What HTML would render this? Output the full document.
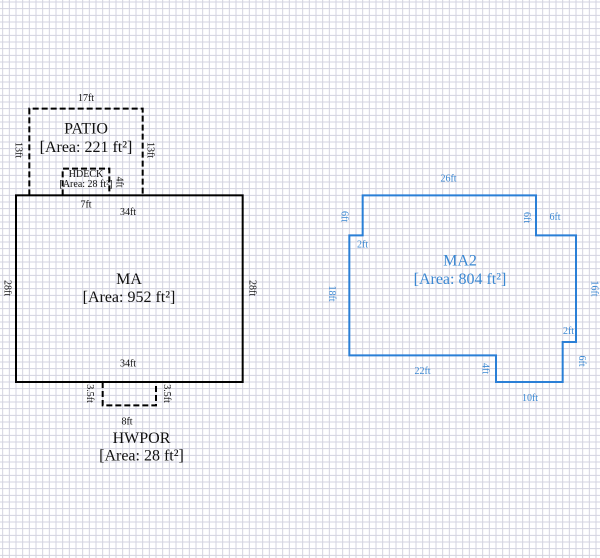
<!DOCTYPE html>
<html><head><meta charset="utf-8"><style>
html,body{margin:0;padding:0;background:#fff;}
svg{display:block;}
text{font-family:"Liberation Serif",serif;}
</style></head><body>
<svg width="600" height="558" viewBox="0 0 600 558" xmlns="http://www.w3.org/2000/svg">
<defs>
<pattern id="g" patternUnits="userSpaceOnUse" x="0" y="0" width="20" height="20">
<line x1="2.67" y1="0" x2="2.67" y2="20" stroke="#d3d3e0" stroke-width="1"/>
<line x1="9.33" y1="0" x2="9.33" y2="20" stroke="#d3d3e0" stroke-width="1"/>
<line x1="16" y1="0" x2="16" y2="20" stroke="#d3d3e0" stroke-width="1"/>
<line x1="0" y1="2" x2="20" y2="2" stroke="#d3d3e0" stroke-width="1"/>
<line x1="0" y1="8.67" x2="20" y2="8.67" stroke="#d3d3e0" stroke-width="1"/>
<line x1="0" y1="15.33" x2="20" y2="15.33" stroke="#d3d3e0" stroke-width="1"/>
</pattern>
</defs>
<rect width="600" height="558" fill="#fff"/>
<rect width="600" height="558" fill="url(#g)"/>

<!-- PATIO -->
<polyline points="29.33,195.33 29.33,108.67 142.67,108.67 142.67,195.33" fill="none" stroke="#000" stroke-width="2" stroke-dasharray="6 3"/>
<!-- HDECK -->
<polyline points="62.67,195.33 62.67,168.67 109.33,168.67 109.33,195.33" fill="none" stroke="#000" stroke-width="2" stroke-dasharray="6 3"/>
<!-- HWPOR -->
<polyline points="102.67,382 102.67,405.33 156,405.33 156,382" fill="none" stroke="#000" stroke-width="2" stroke-dasharray="6 3"/>
<!-- MA -->
<rect x="16" y="195.33" width="226.67" height="186.67" fill="none" stroke="#000" stroke-width="2"/>

<!-- MA2 -->
<polygon points="362.67,195.33 536,195.33 536,235.33 576,235.33 576,342 562.67,342 562.67,382 496,382 496,355.33 349.33,355.33 349.33,235.33 362.67,235.33" fill="none" stroke="#2a7fd6" stroke-width="2"/>

<g fill="#111" text-anchor="middle" dominant-baseline="central">
<text x="86" y="98.5" font-size="10">17ft</text>
<text x="86" y="129" font-size="16">PATIO</text>
<text x="86" y="147.5" font-size="16">[Area: 221 ft²]</text>
<text transform="translate(18,150) rotate(90)" font-size="10">13ft</text>
<text transform="translate(150,150) rotate(90)" font-size="10">13ft</text>
<text x="86" y="174.5" font-size="10">HDECK</text>
<text x="86" y="184.5" font-size="10">[Area: 28 ft²]</text>
<text transform="translate(119,182) rotate(90)" font-size="10">4ft</text>
<text x="86" y="205" font-size="10">7ft</text>
<text x="128" y="212.5" font-size="10">34ft</text>
<text x="129" y="279.5" font-size="16">MA</text>
<text x="129" y="297.5" font-size="16">[Area: 952 ft²]</text>
<text transform="translate(7,288) rotate(90)" font-size="10">28ft</text>
<text transform="translate(252,288) rotate(90)" font-size="10">28ft</text>
<text x="128" y="364" font-size="10">34ft</text>
<text transform="translate(89.5,393.5) rotate(90)" font-size="10">3.5ft</text>
<text transform="translate(166.5,393.5) rotate(90)" font-size="10">3.5ft</text>
<text x="127" y="422" font-size="10">8ft</text>
<text x="141.5" y="438.5" font-size="16">HWPOR</text>
<text x="141.5" y="456" font-size="16">[Area: 28 ft²]</text>
</g>

<g fill="#3a87d2" text-anchor="middle" dominant-baseline="central">
<text x="448.5" y="179" font-size="10">26ft</text>
<text transform="translate(344,216.5) rotate(90)" font-size="10">6ft</text>
<text x="362.5" y="245" font-size="10">2ft</text>
<text transform="translate(526.5,217.5) rotate(90)" font-size="10">6ft</text>
<text x="555" y="217.5" font-size="10">6ft</text>
<text x="460" y="261" font-size="16">MA2</text>
<text x="460" y="279.5" font-size="16">[Area: 804 ft²]</text>
<text transform="translate(331.5,293.5) rotate(90)" font-size="10">18ft</text>
<text transform="translate(594,288.5) rotate(90)" font-size="10">16ft</text>
<text x="568.5" y="331.5" font-size="10">2ft</text>
<text x="422.5" y="371.5" font-size="10">22ft</text>
<text transform="translate(485,368.5) rotate(90)" font-size="10">4ft</text>
<text transform="translate(581.5,361) rotate(90)" font-size="10">6ft</text>
<text x="530" y="398.5" font-size="10">10ft</text>
</g>
</svg>
</body></html>
